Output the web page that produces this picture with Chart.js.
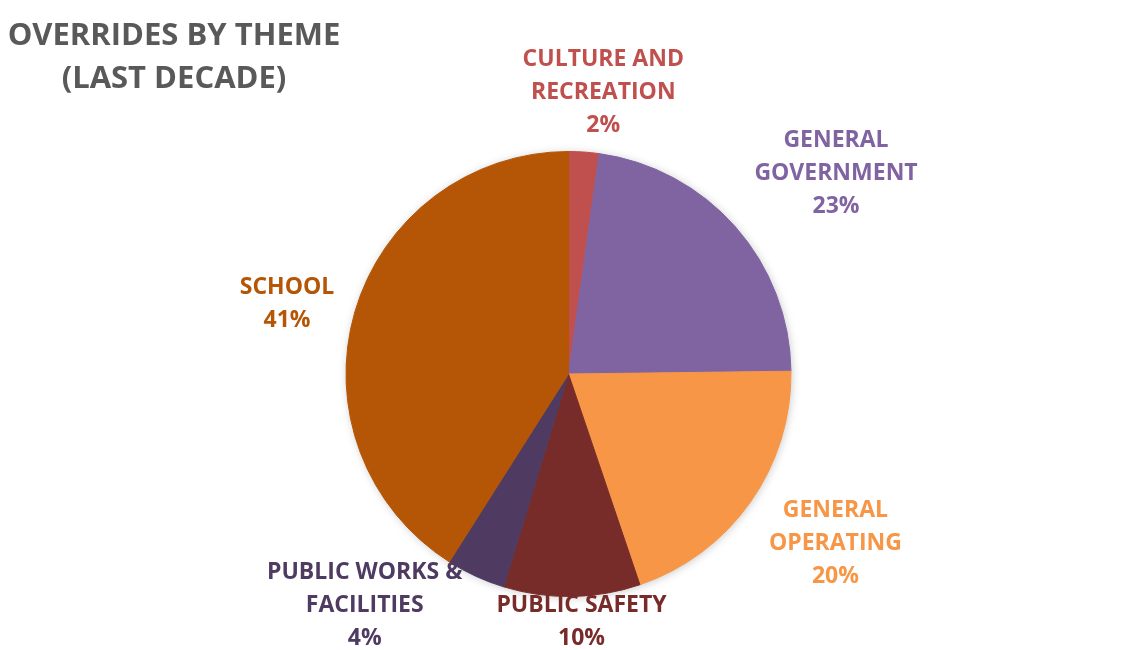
<!DOCTYPE html>
<html>
<head>
<meta charset="utf-8">
<title>Overrides by Theme</title>
<script src="https://cdn.jsdelivr.net/npm/chart.js@4.4.1/dist/chart.umd.min.js"></script>
<style>
    html, body { margin: 0; padding: 0; background: #ffffff; }
    #pieCanvas { display: block; }
</style>
</head>
<body>
<canvas id="pieCanvas" width="1137" height="650"></canvas>
<script>
// Chart data (clockwise from 12 o'clock)
const themes = [
    ['CULTURE AND', 'RECREATION'],
    ['GENERAL', 'GOVERNMENT'],
    ['GENERAL', 'OPERATING'],
    ['PUBLIC SAFETY'],
    ['PUBLIC WORKS &', 'FACILITIES'],
    ['SCHOOL']
];
const shares = [2.2, 22.6, 20.0, 9.9, 4.3, 41.0];
const sliceColors = ['#C0504D', '#8064A2', '#F79646', '#772C2A', '#4F3B62', '#B55606'];
const titleLines = ['OVERRIDES BY THEME', '(LAST DECADE)'];

const FONT_FAMILY = '"Open Sans", "Noto Sans", sans-serif';
// small hand tweaks so the labels sit where the original ones do
const labelNudge = [[13, 2], [10, -2], [9, -1], [8, 2], [0, 2], [-9, 5]];

// Soft shadow under the whole pie
const pieShadow = {
    id: 'pieShadow',
    beforeDatasetsDraw(chart) {
        const arc = chart.getDatasetMeta(0).data[0];
        if (!arc) return;
        const ctx = chart.ctx;
        ctx.save();
        ctx.shadowColor = 'rgba(0, 0, 0, 0.25)';
        ctx.shadowBlur = 10;
        ctx.shadowOffsetX = 1;
        ctx.shadowOffsetY = 1;
        ctx.fillStyle = '#ffffff';
        ctx.beginPath();
        ctx.arc(arc.x, arc.y, arc.outerRadius - 1, 0, Math.PI * 2);
        ctx.fill();
        ctx.restore();
    }
};

// Title in the top left corner
const cornerTitle = {
    id: 'cornerTitle',
    afterDraw(chart) {
        const ctx = chart.ctx;
        ctx.save();
        ctx.font = 'bold 31px ' + FONT_FAMILY;
        ctx.fillStyle = '#595959';
        ctx.textAlign = 'center';
        ctx.textBaseline = 'middle';
        titleLines.forEach((line, i) => ctx.fillText(line, 174, 36 + i * 43));
        ctx.restore();
    }
};

// Category + percent labels outside each slice
const outsideLabels = {
    id: 'outsideLabels',
    afterDatasetsDraw(chart) {
        const ctx = chart.ctx;
        const meta = chart.getDatasetMeta(0);
        const total = shares.reduce((a, b) => a + b, 0);
        const lineHeight = 33;
        const gap = 12;
        const W = chart.width, H = chart.height;
        const placed = [];

        ctx.save();
        ctx.font = 'bold 23px ' + FONT_FAMILY;
        ctx.textAlign = 'center';
        ctx.textBaseline = 'middle';

        meta.data.forEach((arc, i) => {
            const lines = themes[i].concat([Math.round(shares[i] / total * 100) + '%']);
            const w = Math.max(...lines.map(l => ctx.measureText(l).width));
            const h = lines.length * lineHeight;
            const mid = (arc.startAngle + arc.endAngle) / 2;
            const dx = Math.cos(mid), dy = Math.sin(mid);
            const r = arc.outerRadius + gap;
            const m = Math.max(Math.abs(dx), Math.abs(dy));
            let cx = arc.x + dx * r + dx * w / 2 / m;
            let cy = arc.y + dy * r + dy * h / 2 / m;

            // keep inside the canvas
            cx = Math.min(Math.max(cx, w / 2), W - w / 2);
            cy = Math.min(Math.max(cy, h / 2), H - h / 2 + 3);
            cx += labelNudge[i][0];
            cy += labelNudge[i][1];

            // push away from labels already placed
            placed.forEach(p => {
                const overlapX = Math.abs(cx - p.cx) < (w + p.w) / 2;
                const overlapY = Math.abs(cy - p.cy) < (h + p.h) / 2;
                if (overlapX && overlapY) {
                    if (cx < p.cx) cx = p.cx - p.w / 2 - 34 - w / 2;
                    else cx = p.cx + p.w / 2 + 34 + w / 2;
                }
            });
            placed.push({ cx, cy, w, h });

            ctx.fillStyle = sliceColors[i];
            lines.forEach((line, k) => {
                ctx.fillText(line, cx, cy - h / 2 + lineHeight / 2 + k * lineHeight);
            });
        });
        ctx.restore();
    }
};

new Chart(document.getElementById('pieCanvas').getContext('2d'), {
    type: 'pie',
    data: {
        labels: themes.map(t => t.join(' ')),
        datasets: [{
            data: shares,
            backgroundColor: sliceColors,
            borderColor: sliceColors,
            borderWidth: 1
        }]
    },
    options: {
        responsive: false,
        animation: false,
        layout: { padding: { top: 151, bottom: 53 } },
        plugins: {
            legend: { display: false },
            tooltip: { enabled: false }
        }
    },
    plugins: [pieShadow, outsideLabels, cornerTitle]
});
</script>
</body>
</html>
